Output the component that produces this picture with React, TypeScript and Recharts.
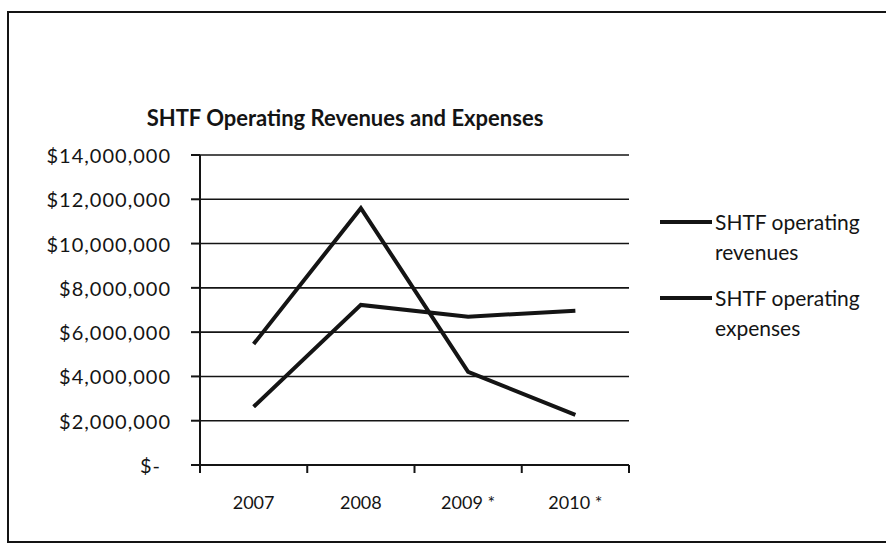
import React from 'react'
import { LineChart, Line, XAxis, YAxis, CartesianGrid } from 'recharts'

const years = ['2007', '2008', '2009 *', '2010 *']
const revenues = [5460000, 11600000, 4210000, 2260000]
const expenses = [2630000, 7230000, 6700000, 6970000]
const yTicks = [0, 2000000, 4000000, 6000000, 8000000, 10000000, 12000000, 14000000]

// x sits in the middle of each year band, band edges are the integers
const data = years.map((year, i) => ({
  x: i + 0.5,
  year,
  revenues: revenues[i],
  expenses: expenses[i],
}))
const xTicks = [0, 0.5, 1, 1.5, 2, 2.5, 3, 3.5, 4]

const FONT = 'Lato, "Open Sans", sans-serif'
const INK = '#141414'

const money = (v: number) => (v === 0 ? '$-' : '$' + v.toLocaleString('en-US'))

function YTick({ x, y, payload }: { x: number; y: number; payload: { value: number } }) {
  const v = payload.value
  return (
    <text
      x={v === 0 ? x - 10 : x}
      y={y}
      textAnchor="end"
      dominantBaseline="central"
      fontFamily={FONT}
      fontSize={20}
      letterSpacing={1}
      fill={INK}
    >
      {money(v)}
    </text>
  )
}

function XTick({ x, y, payload }: { x: number; y: number; payload: { value: number } }) {
  const v = payload.value
  if (Number.isInteger(v)) {
    return <line x1={x} y1={y} x2={x} y2={y + 8} stroke={INK} strokeWidth={2} />
  }
  const label = years[Math.floor(v)]
  return (
    <text
      x={x}
      y={y + 37}
      textAnchor="middle"
      dominantBaseline="central"
      fontFamily={FONT}
      fontSize={18}
      fill={INK}
    >
      {label}
    </text>
  )
}

const legendItems = [
  { l1: 'SHTF operating', l2: 'revenues' },
  { l1: 'SHTF operating', l2: 'expenses' },
]

function LegendBox() {
  return (
    <div
      style={{
        position: 'absolute',
        left: 660,
        top: 207,
        width: 220,
        fontFamily: FONT,
        fontSize: 21,
        color: INK,
        lineHeight: '30px',
      }}
    >
      {legendItems.map((it, i) => (
        <div key={i} style={{ marginBottom: i === 0 ? 16 : 0 }}>
          <div style={{ display: 'flex', alignItems: 'center' }}>
            <span
              style={{
                display: 'inline-block',
                width: 52,
                height: 4,
                background: INK,
                marginRight: 3,
              }}
            />
            <span>{it.l1}</span>
          </div>
          <div style={{ paddingLeft: 55 }}>{it.l2}</div>
        </div>
      ))}
    </div>
  )
}

export default function App() {
  return (
    <div
      style={{
        position: 'absolute',
        left: 0,
        top: 0,
        width: 886,
        height: 543,
        overflow: 'hidden',
        background: '#fff',
      }}
    >
      <div
        style={{
          position: 'absolute',
          left: 7,
          top: 11,
          width: 910,
          height: 532,
          boxSizing: 'border-box',
          border: `2px solid ${INK}`,
        }}
      />
      <div
        style={{
          position: 'absolute',
          left: 140,
          top: 104,
          width: 410,
          textAlign: 'center',
          fontFamily: FONT,
          fontWeight: 700,
          fontSize: 22,
          color: INK,
        }}
      >
        SHTF Operating Revenues and Expenses
      </div>
      <LineChart
        width={886}
        height={543}
        data={data}
        margin={{ top: 155, right: 257, bottom: 40, left: 10 }}
        style={{ position: 'absolute', left: 0, top: 0 }}
      >
        <CartesianGrid horizontal vertical={false} stroke={INK} strokeWidth={1.6} />
        <XAxis
          dataKey="x"
          type="number"
          domain={[0, 4]}
          ticks={xTicks}
          interval={0}
          tickSize={0}
          tickMargin={0}
          tickLine={false}
          tick={XTick}
          height={38}
          axisLine={{ stroke: INK, strokeWidth: 2 }}
        />
        <YAxis
          type="number"
          domain={[0, 14000000]}
          ticks={yTicks}
          interval={0}
          width={190}
          tickSize={9}
          tickMargin={20}
          tick={YTick}
          tickLine={{ stroke: INK, strokeWidth: 2 }}
          axisLine={{ stroke: INK, strokeWidth: 2 }}
        />
        <Line
          dataKey="revenues"
          name="SHTF operating revenues"
          stroke={INK}
          strokeWidth={4}
          dot={false}
          isAnimationActive={false}
        />
        <Line
          dataKey="expenses"
          name="SHTF operating expenses"
          stroke={INK}
          strokeWidth={4}
          dot={false}
          isAnimationActive={false}
        />
      </LineChart>
      <LegendBox />
    </div>
  )
}
